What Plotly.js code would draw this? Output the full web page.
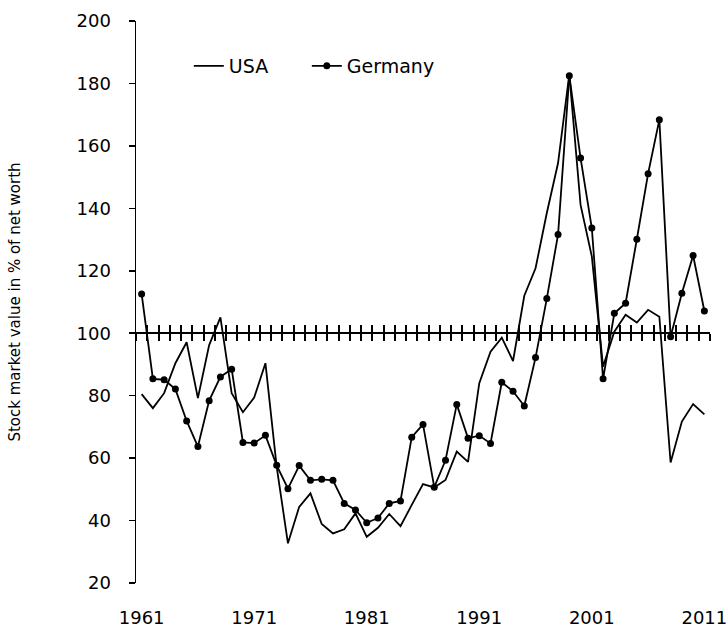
<!DOCTYPE html>
<html>
<head>
<meta charset="utf-8">
<script src="https://cdn.plot.ly/plotly-3.0.1.min.js"></script>
<style>html,body{margin:0;padding:0;background:#fff;}#chart{width:728px;height:632px;}</style>
</head>
<body>
<div id="chart"></div>
<script>
const years = [];
for (let y = 1961; y <= 2011; y++) years.push(y);

const usa = [80.5, 76.0, 80.8, 90.4, 97.1, 79.2, 96.2, 105.1, 80.8, 74.7,
             79.4, 90.4, 57.2, 32.7, 44.4, 48.7, 38.9, 35.9, 37.2, 42.3,
             34.8, 37.7, 42.1, 38.2, 45.0, 51.7, 50.6, 53.0, 62.1, 58.8,
             84.0, 94.1, 98.6, 91.1, 112.0, 120.8, 138.5, 154.5, 183.0, 141.1,
             124.6, 89.3, 100.5, 105.9, 103.4, 107.5, 105.3, 58.6, 71.7, 77.3,
             74.0];

const germany = [112.6, 85.4, 85.1, 82.1, 71.9, 63.7, 78.4, 86.0, 88.5, 65.0,
                 64.8, 67.3, 57.7, 50.2, 57.6, 52.9, 53.2, 52.9, 45.5, 43.4,
                 39.3, 40.8, 45.5, 46.3, 66.7, 70.8, 50.7, 59.3, 77.2, 66.4,
                 67.2, 64.7, 84.3, 81.4, 76.7, 92.2, 111.1, 131.6, 182.5, 156.1,
                 133.7, 85.4, 106.4, 109.6, 130.1, 151.1, 168.4, 98.9, 112.8, 124.9,
                 107.1];

const labelYears = [1961, 1971, 1981, 1991, 2001, 2011];
const yTicks = [20, 40, 60, 80, 100, 120, 140, 160, 180, 200];
const crossLevel = 100;
const yRange = [20, 200];

const dividers = [];
for (let y = 1960.5; y <= 2011.5; y += 1) dividers.push(y);

const xRange = [years[0] - 0.5, years[years.length - 1] + 0.5];
const crossPos = (crossLevel - yRange[0]) / (yRange[1] - yRange[0]);

const FONT = 'DejaVu Sans, sans-serif';

const traces = [
  {
    x: years, y: usa, name: 'USA', type: 'scatter', mode: 'lines',
    line: {color: '#000', width: 1.8}, xaxis: 'x', yaxis: 'y',
    legend: 'legend', hoverinfo: 'x+y'
  },
  {
    x: years, y: germany, name: 'Germany', type: 'scatter', mode: 'lines+markers',
    line: {color: '#000', width: 1.8}, marker: {color: '#000', size: 7},
    xaxis: 'x2', yaxis: 'y', legend: 'legend2', hoverinfo: 'x+y'
  },
  {
    // invisible carrier so the inner tick axis is drawn
    x: years, y: usa, name: 'ticks', type: 'scatter', mode: 'lines',
    line: {color: 'rgba(0,0,0,0)', width: 0}, opacity: 0, showlegend: false,
    xaxis: 'x3', yaxis: 'y', hoverinfo: 'skip'
  }
];

const crossAxis = (ticks) => ({
  overlaying: 'x', anchor: 'free', position: crossPos,
  range: xRange, tickmode: 'array', tickvals: dividers,
  ticks: ticks, ticklen: 7, tickwidth: 2, tickcolor: '#000',
  showticklabels: false, showline: true, linecolor: '#000', linewidth: 2,
  showgrid: false, zeroline: false
});

const legendBase = (x) => ({
  orientation: 'h', x: x, y: 0.92, xanchor: 'left', yanchor: 'middle',
  font: {family: FONT, size: 19, color: '#000'}, bgcolor: 'rgba(0,0,0,0)'
});

const layout = {
  width: 728, height: 632,
  margin: {l: 136, r: 18, t: 21, b: 49},
  paper_bgcolor: '#fff', plot_bgcolor: '#fff',
  font: {family: FONT, color: '#000', size: 18},
  showlegend: true,
  legend: legendBase(0.092),
  legend2: legendBase(0.2976),
  xaxis: {
    range: xRange, tickmode: 'array', tickvals: labelYears,
    ticktext: labelYears.map(String), ticks: '', showline: false,
    showgrid: false, zeroline: false, ticklabelstandoff: 22,
    tickfont: {family: FONT, size: 18, color: '#000'}
  },
  xaxis2: crossAxis('outside'),
  xaxis3: crossAxis('inside'),
  yaxis: {
    range: yRange, tickmode: 'array', tickvals: yTicks,
    ticks: 'outside', ticklen: 6, tickwidth: 1.5, tickcolor: '#000',
    showline: true, linecolor: '#000', linewidth: 1.5,
    showgrid: false, zeroline: false, ticklabelstandoff: 14,
    tickfont: {family: FONT, size: 18, color: '#000'},
    title: {text: 'Stock market value in % of net worth', font: {family: FONT, size: 15, color: '#000'}, standoff: 52}
  }
};

Plotly.newPlot('chart', traces, layout, {displayModeBar: false, staticPlot: true});
</script>
</body>
</html>
